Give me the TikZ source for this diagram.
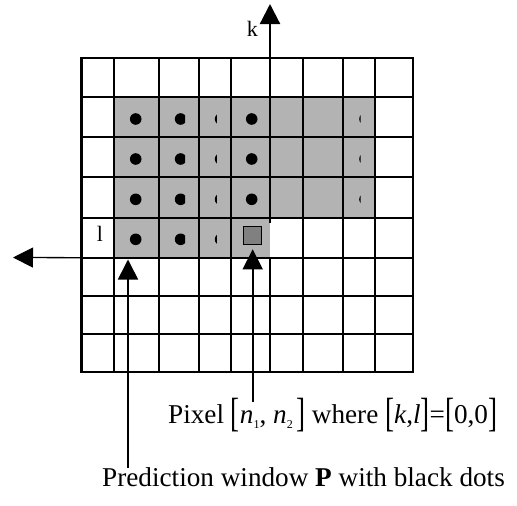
\documentclass[tikz,border=0pt]{standalone}
\usepackage{graphicx}
\usepackage{fontspec}
\setmainfont{Liberation Serif}
\usetikzlibrary{arrows.meta}

\definecolor{wingray}{RGB}{179,179,179}
\definecolor{pixgray}{RGB}{128,128,128}
\newcommand{\tallbr}[1]{\raisebox{-0.12em}{\scalebox{1}[1.5]{#1}}}
\newcommand{\lowsub}[1]{\raisebox{-0.22em}{\fontsize{12}{12}\selectfont #1}}

\begin{document}
\begin{tikzpicture}[x=1pt, y=-1pt,
  gridline/.style={line width=2.9pt, line cap=rect},
  bigtip/.style={-{Triangle[width=20pt,length=20pt]}},
  lbl/.style={inner sep=0pt, anchor=base west, font=\fontsize{27.2}{32}\selectfont},
  axlbl/.style={inner sep=0pt, anchor=base, font=\fontsize{22}{24}\selectfont}]
  \useasboundingbox (0,0) rectangle (517,506);

  % ---------------- prediction window (grey) ----------------
  \fill[wingray] (114,97) rectangle (375,218);
  \fill[wingray] (114,218) rectangle (270,258);

  % ---------------- pixel grid ----------------
  \foreach \x in {81.5,114,159,199,231,303,343,375,413}
    \draw[gridline] (\x,58) -- (\x,372);
  \draw[gridline] (270,258) -- (270,372);
  \foreach \y in {58,97,137,177,218,258,296,334,372}
    \draw[gridline] (81.5,\y) -- (413,\y);

  % ---------------- black dots (partly hidden) ----------------
  \foreach \y in {119,159,199.3}
    \foreach \x/\c in {135.7/142,180.6/185,220.6/216.8,251.7/258,365/360.7}{
      \begin{scope}
        \clip (\x-6,\y-6) rectangle (\c,\y+6);
        \fill (\x,\y) circle (5.8);
      \end{scope}
    }
  \foreach \x/\c in {135.7/142,180.6/185,220.6/216.8}{
    \begin{scope}
      \clip (\x-6,233.3) rectangle (\c,245.3);
      \fill (\x,239.3) circle (5.8);
    \end{scope}
  }

  % ---------------- pixel [n1,n2] ----------------
  \node[draw, line width=1.5pt, fill=pixgray, minimum size=18pt, inner sep=0pt] (pix) at (252.5,235.3) {};

  % ---------------- axes k and l ----------------
  \coordinate (kfoot) at (270,223);
  \coordinate (ktip) at (270,4);
  \draw[line width=2.2pt, bigtip] (kfoot) -- (ktip);
  \node[axlbl] (klbl) at (252.3,36) {k};

  \coordinate (lfoot) at (187,258);
  \coordinate (ltip) at (13,257.5);
  \draw[line width=1.3pt, bigtip] (lfoot) -- (ltip);
  \node[axlbl] (llbl) at (100,241.7) {l};

  % ---------------- pointers and captions ----------------
  \node[lbl] (pixlbl) at (168,423)
    {Pixel \tallbr{[}\textit{n}\lowsub{1}, \textit{n}\lowsub{2}\hspace{0.12em}\tallbr{]} where \tallbr{[}\textit{k},\textit{l}\tallbr{]}=\tallbr{[}0,0\tallbr{]}};
  \node[lbl] (winlbl) at (102,486) {Prediction window \textbf{P} with black dots};

  \coordinate (pixfoot) at (252.7,402);
  \coordinate (pixtip) at (252.7,249.3);
  \draw[line width=1.6pt, bigtip] (pixfoot) -- (pixtip);

  \coordinate (winfoot) at (128,468);
  \coordinate (wintip) at (128,259.5);
  \draw[line width=1.6pt, bigtip] (winfoot) -- (wintip);
\end{tikzpicture}
\end{document}
